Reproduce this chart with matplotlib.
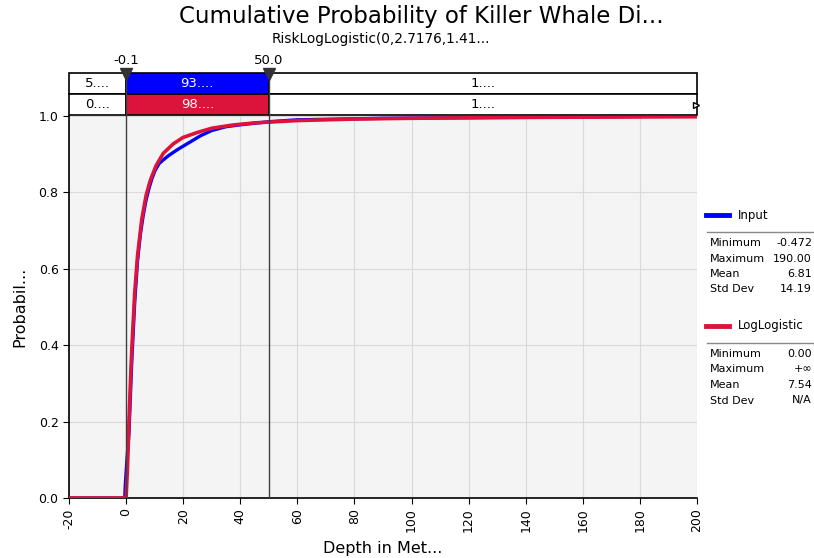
import numpy as np
import matplotlib.pyplot as plt
from matplotlib.patches import Rectangle
from matplotlib.lines import Line2D

plt.rcParams["axes.unicode_minus"] = False

# values
input_x = [-20, -0.472, -0.3, -0.1, 0.3, 1, 2, 3, 4, 5, 6, 7, 8, 9, 10, 11.5, 13,
           15, 18, 22, 26, 30, 35, 40, 45, 50, 60, 75, 90, 110, 130, 150, 170, 190, 200]
input_y = [0, 0, 0.03, 0.055, 0.10, 0.17, 0.36, 0.51, 0.62, 0.69, 0.74, 0.78, 0.81,
           0.835, 0.855, 0.875, 0.885, 0.897, 0.912, 0.93, 0.948, 0.962, 0.972, 0.977,
           0.981, 0.985, 0.99, 0.992, 0.994, 0.995, 0.996, 0.997, 0.998, 1.0, 1.0]

fit_x = [-20, 0, 0.5, 1, 1.5, 2, 3, 4, 5.5, 7, 8.5, 10.5, 13, 16.5, 20, 25, 30, 37,
         45, 50, 60, 80, 100, 130, 160, 200]
fit_y = [0, 0, 0.08, 0.195, 0.30, 0.39, 0.535, 0.634, 0.73, 0.792, 0.832, 0.87, 0.902,
         0.927, 0.944, 0.957, 0.968, 0.976, 0.982, 0.984, 0.988, 0.992, 0.994, 0.996,
         0.997, 0.998]

left_mark, right_mark = -0.1, 50.0
band_labels = [["5....", "93....", "1...."], ["0....", "98....", "1...."]]

input_stats = [("Minimum", "-0.472"), ("Maximum", "190.00"), ("Mean", "6.81"), ("Std Dev", "14.19")]
fit_stats = [("Minimum", "0.00"), ("Maximum", "+\u221e"), ("Mean", "7.54"), ("Std Dev", "N/A")]

BLUE = "#0000FF"
RED = "#DC143C"
W, H = 814, 558

fig = plt.figure(figsize=(W / 100, H / 100), dpi=100)


def fx(x):
    return x / W


def fy(y):
    return 1 - y / H


# main axes
ax = fig.add_axes([fx(69), fy(498), (697 - 69) / W, (498 - 116) / H])
ax.set_facecolor("#F4F4F4")
ax.plot(input_x, input_y, color=BLUE, lw=2.4, zorder=3)
ax.plot(fit_x, fit_y, color=RED, lw=2.6, zorder=4)
ax.set_xlim(-20, 200)
ax.set_ylim(0, 1)
ax.set_xticks(np.arange(-20, 201, 20))
ax.set_yticks(np.arange(0, 1.01, 0.2))
ax.set_yticklabels(["%.1f" % v for v in np.arange(0, 1.01, 0.2)])
ax.tick_params(axis="x", labelrotation=90)
ax.tick_params(labelsize=9, length=4, color="black")
ax.grid(True, color="#DADADA", lw=0.8)
ax.set_axisbelow(True)
for s in ["top", "right"]:
    ax.spines[s].set_visible(False)
for s in ["left", "bottom"]:
    ax.spines[s].set_color("black")
    ax.spines[s].set_linewidth(1.2)
ax.set_xlabel("Depth in Met...", fontsize=11.5, labelpad=6)
ax.set_ylabel("Probabil...", fontsize=11.5, labelpad=8)
for m in (left_mark, right_mark):
    ax.axvline(m, color="#404040", lw=1, zorder=5)

# band axes on top
bx = fig.add_axes([fx(69), fy(115), (697 - 69) / W, (115 - 73) / H])
bx.set_xlim(-20, 200)
bx.set_ylim(0, 2)
bx.axis("off")
edges = [-20, left_mark, right_mark, 200]
fills = [[None, BLUE, None], [None, RED, None]]
for r in range(2):
    yb = 1 - r
    for i in range(3):
        fc = fills[r][i] or "white"
        bx.add_patch(Rectangle((edges[i], yb), edges[i + 1] - edges[i], 1,
                               facecolor=fc, edgecolor="black", lw=1.2, clip_on=False))
        tc = "white" if fills[r][i] else "black"
        bx.text((edges[i] + edges[i + 1]) / 2, yb + 0.5, band_labels[r][i],
                ha="center", va="center", fontsize=9.5, color=tc)
for m in (left_mark, right_mark):
    bx.plot([m, m], [0, 2], color="#404040", lw=1, clip_on=False)
    bx.plot(m, 1.95, marker="v", color="#333333", ms=8, clip_on=False, zorder=6)
    bx.text(m, 2.3, "%.1f" % m, ha="center", va="bottom", fontsize=9.5)
bx.plot(199.5, 0.5, marker=">", mfc="white", mec="black", ms=5, clip_on=False)

# titles
fig.text(fx(421), fy(17), "Cumulative Probability of Killer Whale Di...", ha="center",
         va="center", fontsize=16.5)
fig.text(fx(381), fy(39), "RiskLogLogistic(0,2.7176,1.41...", ha="center",
         va="center", fontsize=9.8)


# legend panel
def legend_block(y0, color, name, stats):
    fig.add_artist(Line2D([fx(706), fx(729)], [fy(y0), fy(y0)], color=color, lw=3.5))
    fig.text(fx(738), fy(y0), name, va="center", fontsize=8.5)
    fig.add_artist(Line2D([fx(707), fx(814)], [fy(y0 + 17), fy(y0 + 17)],
                          color="#888888", lw=1))
    for k, (lab, val) in enumerate(stats):
        yy = y0 + 28 + k * 15.5
        fig.text(fx(710), fy(yy), lab, va="center", fontsize=8)
        fig.text(fx(812), fy(yy), val, va="center", ha="right", fontsize=8)


legend_block(215, BLUE, "Input", input_stats)
legend_block(326, RED, "LogLogistic", fit_stats)

fig.savefig("out.png", dpi=100)
